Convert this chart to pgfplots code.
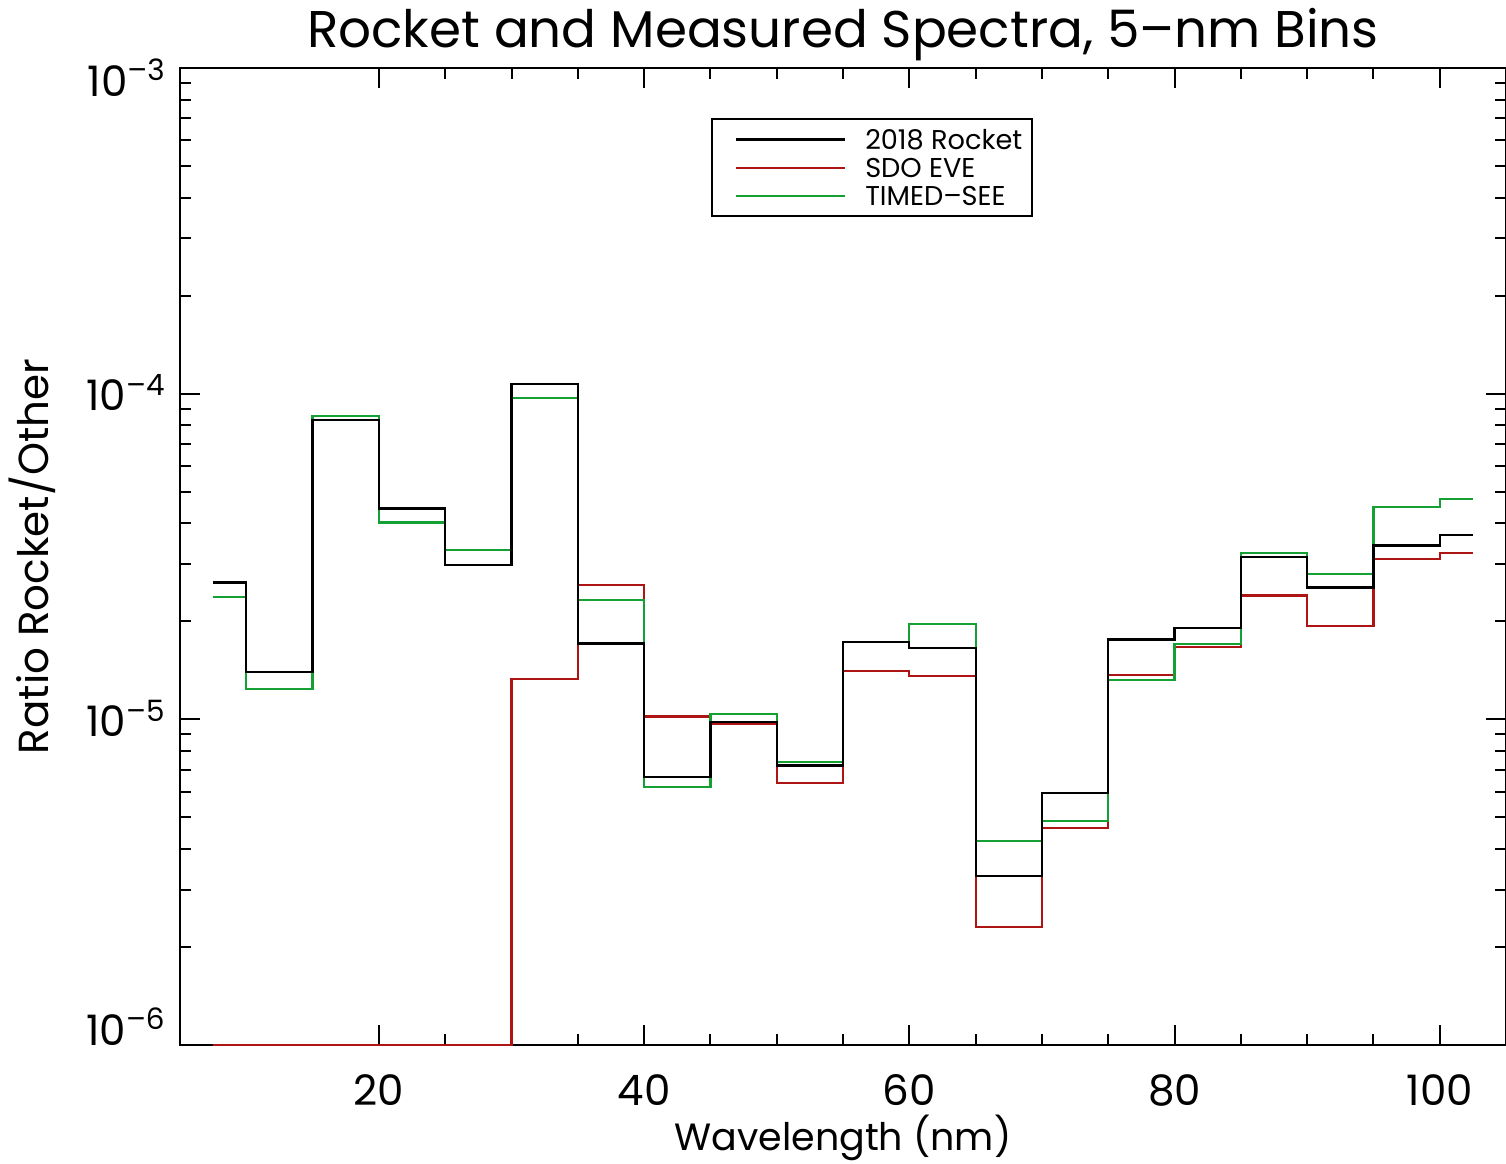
\documentclass[border=0pt]{standalone}
\usepackage{fontspec}
\setmainfont{Poppins}
\usepackage{pgfplots}
\usepackage{pgfplotstable}
\pgfplotsset{compat=1.18}
\definecolor{idlred}{RGB}{175,20,20}
\definecolor{idlgreen}{RGB}{20,160,50}
\pgfplotstableread{
x rocket eve see
7.5 2.63e-5 1e-6 2.38e-5
12.5 1.40e-5 1e-6 1.24e-5
17.5 8.32e-5 1e-6 8.56e-5
22.5 4.44e-5 1e-6 4.02e-5
27.5 2.97e-5 1e-6 3.32e-5
32.5 1.07e-4 1.33e-5 9.72e-5
37.5 1.71e-5 2.58e-5 2.33e-5
42.5 6.64e-6 1.02e-5 6.19e-6
47.5 9.79e-6 9.66e-6 1.04e-5
52.5 7.22e-6 6.36e-6 7.38e-6
57.5 1.73e-5 1.41e-5 1.73e-5
62.5 1.66e-5 1.36e-5 1.96e-5
67.5 3.30e-6 2.30e-6 4.22e-6
72.5 5.93e-6 4.63e-6 4.87e-6
77.5 1.76e-5 1.37e-5 1.32e-5
82.5 1.91e-5 1.67e-5 1.70e-5
87.5 3.16e-5 2.40e-5 3.25e-5
92.5 2.54e-5 1.94e-5 2.79e-5
97.5 3.42e-5 3.10e-5 4.50e-5
102.5 3.69e-5 3.25e-5 4.76e-5
}\datatable
\begin{document}
\begin{tikzpicture}
\useasboundingbox (-90pt,-59pt) rectangle (663pt,522.5pt);
\begin{axis}[
  at={(0pt,0pt)}, anchor=south west,
  scale only axis, width=663pt, height=488.5pt,
  ymode=log, xmin=5, xmax=105, ymin=1e-6, ymax=1e-3,
  clip=false,
  axis line style={line width=1pt},
  every tick/.style={black, line width=1pt},
  major tick length=10pt, minor tick length=5.5pt,
  tick align=inside, tick pos=both,
  xtick={20,40,60,80,100}, minor x tick num=3,
  ytick={1e-6,1e-5,1e-4,1e-3},
  yticklabels={\raisebox{8.5pt}{10\textsuperscript{–6}},10\textsuperscript{–5},10\textsuperscript{–4},\raisebox{-5.5pt}{10\textsuperscript{–3}}},
  /pgf/number format/assume math mode=true,
  xticklabel style={font=\fontsize{21}{21}\selectfont, anchor=base, inner sep=0pt, yshift=-30pt},
  yticklabel style={font=\fontsize{21}{21}\selectfont, anchor=base east, inner sep=0pt, xshift=-7pt, yshift=-8.5pt},
  every axis title shift=0pt,
  title={Rocket and Measured Spectra, 5–nm Bins},
  title style={font=\fontsize{25.8}{25.8}\selectfont, at={(axis description cs:0.5,1)}, anchor=base, yshift=10.5pt, inner sep=0pt},
  xlabel={Wavelength (nm)},
  xlabel style={font=\fontsize{19}{19}\selectfont, at={(axis description cs:0.5,0)}, anchor=base, yshift=-52.5pt, inner sep=0pt},
  ylabel={Ratio Rocket/Other},
  ylabel style={font=\fontsize{21}{21}\selectfont, at={(axis description cs:-0.0988,0.5)}, anchor=base, inner sep=0pt},
  legend style={at={(0.4005,0.9488)}, anchor=north west, draw=black, line width=1pt,
    font=\fontsize{13.6}{13.6}\selectfont, inner xsep=2.5pt, inner ysep=4.7pt, row sep=3.4pt,
    nodes={inner xsep=2.5pt, inner ysep=0.5pt, text depth=0pt},
    legend cell align=left},
  legend image code/.code={\path (0pt,0pt) (70.5pt,0pt); \draw[#1] (9pt,0pt) -- (63.5pt,0pt);},
]
\addlegendimage{black, line width=1.1pt}\addlegendentry{2018 Rocket}
\addlegendimage{idlred, line width=1.1pt}\addlegendentry{SDO EVE}
\addlegendimage{idlgreen, line width=1.1pt}\addlegendentry{TIMED–SEE}
\addplot[forget plot, idlred, line width=1.1pt, const plot mark mid] table[x=x, y=eve] {\datatable};
\addplot[forget plot, idlgreen, line width=1.1pt, const plot mark mid] table[x=x, y=see] {\datatable};
\addplot[forget plot, black, line width=1.1pt, const plot mark mid] table[x=x, y=rocket] {\datatable};
\end{axis}
\end{tikzpicture}
\end{document}
